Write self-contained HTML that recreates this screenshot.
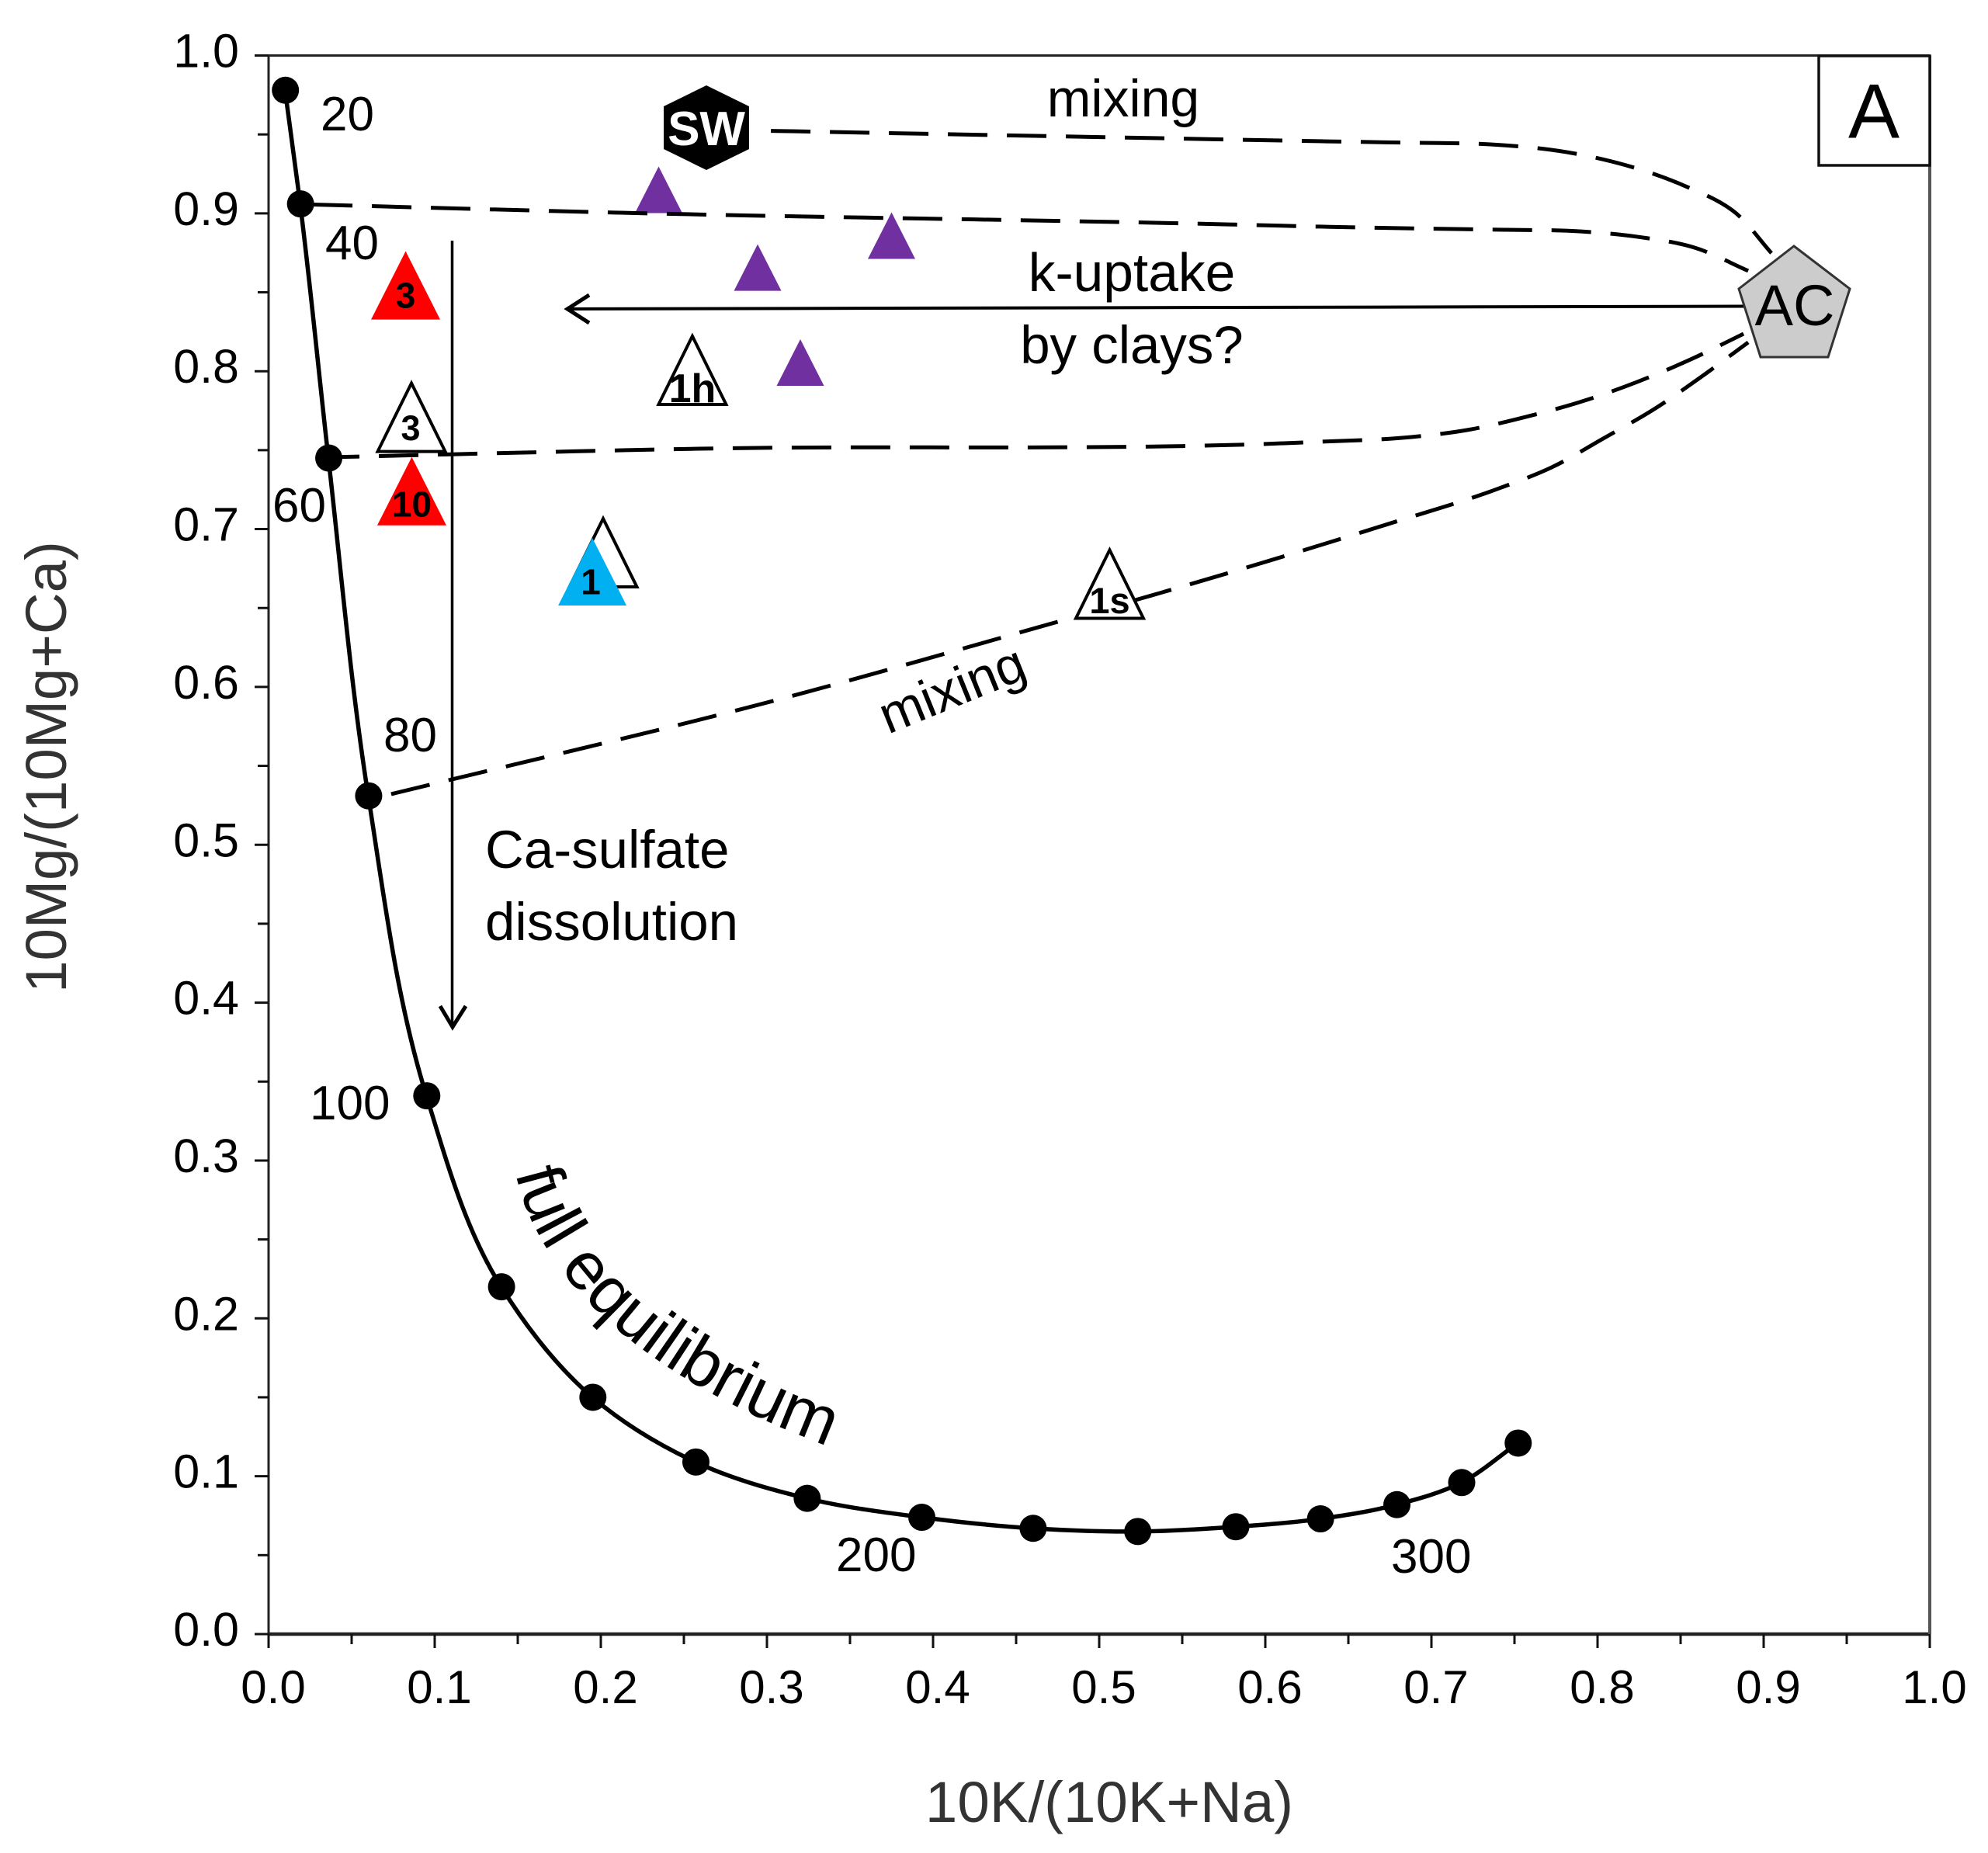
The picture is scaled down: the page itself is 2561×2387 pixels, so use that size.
<!DOCTYPE html>
<html lang="en">
<head>
<meta charset="utf-8">
<title>10K/(10K+Na) vs 10Mg/(10Mg+Ca) diagram</title>
<style>
html,body{margin:0;padding:0;background:#fff;}
svg{display:block;}
text{font-family:"Liberation Sans",Arial,sans-serif;fill:#000;}
</style>
</head>
<body>
<svg id="chart" xmlns="http://www.w3.org/2000/svg" width="2561" height="2387" viewBox="0 0 2561 2387">
  <rect x="0" y="0" width="2561" height="2387" fill="#fff"/>
  <g id="purple-layer"></g>
  <g id="mixing-layer"></g>
  <g id="axis-layer"></g>
  <g id="curve-layer"></g>

  <g fill="none" stroke="#000">
    <line x1="582.5" y1="310" x2="582.5" y2="1322" stroke-width="3.5"/>
    <polyline points="567,1296 583,1323 600,1296" stroke-width="5"/>
  </g>
  <g fill="none" stroke="#000">
    <line x1="2250" y1="394.5" x2="732" y2="398" stroke-width="4"/>
    <polyline points="759,380 731,398 759,416" stroke-width="5"/>
  </g>

  <g id="triangle-layer"></g>

  <g>
    <polygon points="910,110 965,137 965,192 910,219 855,192 855,137" fill="#000"/>
    <text x="910" y="187" font-size="62" font-weight="bold" text-anchor="middle" style="fill:#fff">SW</text>
  </g>
  <g>
    <polygon points="2311,317 2383,372 2355,460 2268,460 2240,372" fill="#ccc" stroke="#333" stroke-width="3"/>
    <text x="2312" y="419" font-size="74" text-anchor="middle">AC</text>
  </g>

  <g>
    <rect x="2343" y="72" width="143" height="141" fill="#fff" stroke="#111" stroke-width="3.5"/>
    <text x="2414" y="177.5" font-size="99" text-anchor="middle">A</text>
  </g>

  <g>
    <text x="1447" y="150" font-size="68" text-anchor="middle">mixing</text>
    <text x="1458" y="375" font-size="69.5" text-anchor="middle">k-uptake</text>
    <text x="1458" y="468" font-size="69" text-anchor="middle">by clays?</text>
    <text x="625" y="1118" font-size="69">Ca-sulfate</text>
    <text x="625" y="1211" font-size="69">dissolution</text>
    <text transform="translate(1144 946) rotate(-22)" font-size="68">mixing</text>
    <path id="equilibrium-path" d="M664 1511 C691 1632 803 1764 1064 1862" fill="none" stroke="none"/>
    <text font-size="87"><textPath href="#equilibrium-path" startOffset="0">full equilibrium</textPath></text>
  </g>

  <g font-size="62">
    <text x="413" y="168">20</text>
    <text x="419" y="334">40</text>
    <text x="351" y="672">60</text>
    <text x="494" y="968">80</text>
    <text x="399" y="1442">100</text>
    <text x="1077" y="2024">200</text>
    <text x="1792" y="2026">300</text>
  </g>

  <text x="1429" y="2347" font-size="74.5" text-anchor="middle" style="fill:#333">10K/(10K+Na)</text>
  <text transform="translate(85 988) rotate(-90)" font-size="74.5" text-anchor="middle" style="fill:#333">10Mg/(10Mg+Ca)</text>
</svg>

<script>
// Tick values
const xTickLabels = ['0.0','0.1','0.2','0.3','0.4','0.5','0.6','0.7','0.8','0.9','1.0'];
const yTickLabels = ['0.0','0.1','0.2','0.3','0.4','0.5','0.6','0.7','0.8','0.9','1.0'];
const xMajorTicks = [0,0.1,0.2,0.3,0.4,0.5,0.6,0.7,0.8,0.9,1.0];
const yMajorTicks = [0,0.1,0.2,0.3,0.4,0.5,0.6,0.7,0.8,0.9,1.0];
const xMinorTicks = [0.05,0.15,0.25,0.35,0.45,0.55,0.65,0.75,0.85,0.95];
const yMinorTicks = [0.05,0.15,0.25,0.35,0.45,0.55,0.65,0.75,0.85,0.95];

// Full-equilibrium curve
const curveX = [0.0099,0.019,0.036,0.060,0.095,0.140,0.195,0.257,0.324,0.393,0.460,0.523,0.582,0.633,0.679,0.718,0.752];
const curveY = [0.978,0.906,0.745,0.531,0.341,0.220,0.150,0.109,0.086,0.074,0.067,0.065,0.068,0.073,0.082,0.096,0.121];

// Mixing lines
const mixing1X = [0.2907,0.5369,0.6327,0.6900,0.7355,0.7813,0.8173,0.8509,0.8818,0.9047];
const mixing1Y = [0.9525,0.9476,0.9457,0.9447,0.9437,0.9388,0.9304,0.9181,0.9014,0.8748];
const mixing2X = [0.0192,0.2121,0.5780,0.6327,0.7000,0.7450,0.7893,0.8238,0.8584,0.8907];
const mixing2Y = [0.9058,0.9004,0.8930,0.8916,0.8903,0.8896,0.8886,0.8852,0.8783,0.8636];
const mixing3X = [0.0360,0.2589,0.6327,0.6879,0.7224,0.7570,0.7907,0.8238,0.8561,0.8879];
const mixing3Y = [0.7455,0.7509,0.7553,0.7583,0.7629,0.7711,0.7809,0.7932,0.8075,0.8237];
const mixing4X = [0.0738,0.3126,0.4701,0.5379,0.6724,0.7407,0.7724,0.8033,0.8341,0.8621,0.8907];
const mixing4Y = [0.5321,0.5936,0.6398,0.6599,0.7027,0.7258,0.7391,0.7573,0.7760,0.7962,0.8183];

// Sample triangles
const purpleX = [0.2348,0.2944,0.3750,0.3201];
const purpleY = [0.9149,0.8657,0.8859,0.8055];
const redX = [0.0825,0.0862];
const redY = [0.8544,0.7240];
const redLabels = ['3','10'];
const whiteX = [0.0860,0.2014,0.2551,0.5063];
const whiteY = [0.7708,0.6850,0.8006,0.6651];
const whiteLabels = ['3','','1h','1s'];
const blueX = [0.1949];
const blueY = [0.6730];
const blueLabels = ['1'];

const SVGNS = 'http://www.w3.org/2000/svg';
const plotLeft = 346, plotRight = 2486, plotTop = 71.5, plotBottom = 2105;
function xScale(v){ return plotLeft + (plotRight - plotLeft) * v; }
function yScale(v){ return plotBottom - (plotBottom - plotTop) * v; }

function make(tag, parent, attrs){
  const el = document.createElementNS(SVGNS, tag);
  for (const k in attrs) el.setAttribute(k, attrs[k]);
  parent.appendChild(el);
  return el;
}

// Smooth path whose handle lengths follow each segment, so uneven spacing leaves no kinks.
function smoothPath(xs, ys){
  const p = xs.map(function(x, i){ return [xScale(x), yScale(ys[i])]; });
  function dist(a, b){ return Math.hypot(b[0] - a[0], b[1] - a[1]); }
  function tangent(i){
    const a = p[Math.max(i - 1, 0)], b = p[Math.min(i + 1, p.length - 1)];
    const cur = p[i];
    const d1 = dist(a, cur) || 1, d2 = dist(cur, b) || 1;
    // weight the shorter neighbouring segment more strongly
    let tx = (cur[0] - a[0]) / d1 * d2 + (b[0] - cur[0]) / d2 * d1;
    let ty = (cur[1] - a[1]) / d1 * d2 + (b[1] - cur[1]) / d2 * d1;
    const len = Math.hypot(tx, ty) || 1;
    return [tx / len, ty / len];
  }
  let d = 'M' + p[0][0] + ' ' + p[0][1];
  for (let i = 0; i < p.length - 1; i++){
    const b = p[i], c = p[i + 1];
    const h = dist(b, c) / 3;
    const t1 = tangent(i), t2 = tangent(i + 1);
    d += ' C' + (b[0] + t1[0] * h) + ' ' + (b[1] + t1[1] * h) + ' ' + (c[0] - t2[0] * h) + ' ' + (c[1] - t2[1] * h) + ' ' + c[0] + ' ' + c[1];
  }
  return d;
}

// Axes
const axisLayer = document.getElementById('axis-layer');
const axisFrame = [
  ['x-axis-line', plotLeft, plotBottom, plotRight, plotBottom, 4.5, '#222'],
  ['y-axis-line', plotLeft, plotTop, plotLeft, plotBottom, 3, '#222'],
  ['top-border', plotLeft, plotTop, plotRight, plotTop, 3, '#222'],
  ['right-border', plotRight, plotTop, plotRight, plotBottom, 4, '#555']
];
axisFrame.forEach(function(a){
  const line = make('line', axisLayer, {x1:a[1], y1:a[2], x2:a[3], y2:a[4], 'stroke-width':a[5], stroke:a[6]});
  
  
});

xMajorTicks.forEach(function(v, i){
  const t = make('line', axisLayer, {x1:xScale(v), y1:plotBottom, x2:xScale(v), y2:plotBottom + 18, stroke:'#111', 'stroke-width':3});
  
  
  const l = make('text', axisLayer, {x:xScale(v) + 6, y:2194, 'font-size':60, 'text-anchor':'middle'});
  
  
  l.textContent = xTickLabels[i];
});
xMinorTicks.forEach(function(v){
  const t = make('line', axisLayer, {x1:xScale(v), y1:plotBottom, x2:xScale(v), y2:plotBottom + 13, stroke:'#111', 'stroke-width':3});
  
  
});
yMajorTicks.forEach(function(v, i){
  const t = make('line', axisLayer, {x1:plotLeft - 18, y1:yScale(v), x2:plotLeft, y2:yScale(v), stroke:'#111', 'stroke-width':3});
  
  
  const l = make('text', axisLayer, {x:308, y:yScale(v) + 15, 'font-size':61, 'text-anchor':'end'});
  
  
  l.textContent = yTickLabels[i];
});
yMinorTicks.forEach(function(v){
  const t = make('line', axisLayer, {x1:plotLeft - 14, y1:yScale(v), x2:plotLeft, y2:yScale(v), stroke:'#111', 'stroke-width':3});
  
  
});

// Triangles
function triangle(parent, xv, yv, w, h, fill, stroke){
  const cx = xScale(xv), cy = yScale(yv);
  const pts = cx + ',' + (cy - h / 2) + ' ' + (cx + w / 2) + ',' + (cy + h / 2) + ' ' + (cx - w / 2) + ',' + (cy + h / 2);
  const attrs = {points:pts, fill:fill};
  if (stroke) { attrs.stroke = stroke; attrs['stroke-width'] = 4; attrs['stroke-linejoin'] = 'miter'; }
  return make('polygon', parent, attrs);
}
function triangleLabel(parent, xv, yv, dx, dy, str, size){
  const t = make('text', parent, {x:xScale(xv) + dx, y:yScale(yv) + dy, 'font-size':size, 'font-weight':'bold', 'text-anchor':'middle'});
  t.textContent = str;
  return t;
}

const purpleLayer = document.getElementById('purple-layer');
purpleX.forEach(function(x, i){
  const m = triangle(purpleLayer, x, purpleY[i], 61, 60, '#7030a0', null);
  
  
});

// Mixing lines
const mixingLayer = document.getElementById('mixing-layer');
function mixingLine(xs, ys, offset, name){
  const p = make('path', mixingLayer, {d:smoothPath(xs, ys), fill:'none', stroke:'#000', 'stroke-width':5, 'stroke-dasharray':'51 25', 'stroke-dashoffset':offset});
  
  
}
mixingLine(mixing1X, mixing1Y, 51, 'mixing-line-seawater');
mixingLine(mixing2X, mixing2Y, -16, 'mixing-line-40');
mixingLine(mixing3X, mixing3Y, 11, 'mixing-line-60');
mixingLine(mixing4X, mixing4Y, 0, 'mixing-line-80');

// Curve
const curveLayer = document.getElementById('curve-layer');
const curvePath = make('path', curveLayer, {d:smoothPath(curveX, curveY), fill:'none', stroke:'#000', 'stroke-width':5.5});


curveX.forEach(function(x, i){
  const c = make('circle', curveLayer, {cx:xScale(x) + 0.5, cy:yScale(curveY[i]), r:17.5, fill:'#000'});
  
  
});

// Labelled triangles
const triLayer = document.getElementById('triangle-layer');
const whiteDx = [-1, 0, 0, 0];
const whiteDy = [29.5, 0, 41, 37.5];
const whiteSize = [45, 45, 52, 47];
whiteX.forEach(function(x, i){
  const m = triangle(triLayer, x, whiteY[i], 87, 88, '#fff', '#000');
  
  
  if (whiteLabels[i]) {
    const t = triangleLabel(triLayer, x, whiteY[i], whiteDx[i], whiteDy[i], whiteLabels[i], whiteSize[i]);
    
    
  }
});
const redDy = [29, 33];
redX.forEach(function(x, i){
  const m = triangle(triLayer, x, redY[i], 89, 88, '#ff0000', null);
  
  
  const t = triangleLabel(triLayer, x, redY[i], 0, redDy[i], redLabels[i], 46);
  
  
});
blueX.forEach(function(x, i){
  const m = triangle(triLayer, x, blueY[i], 88, 87, '#00b0f0', null);
  
  
  const t = triangleLabel(triLayer, x, blueY[i], -2, 29, blueLabels[i], 46);
  
  
});
</script>
</body>
</html>
